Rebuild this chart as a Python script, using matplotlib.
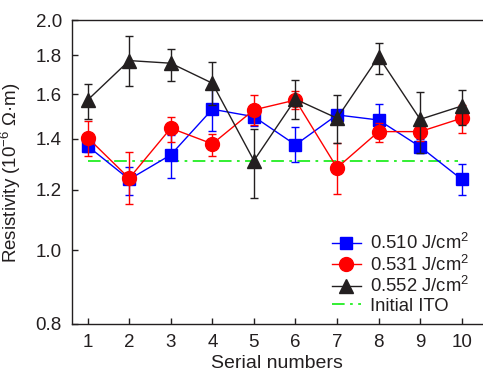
import matplotlib
matplotlib.use("Agg")
import matplotlib.pyplot as plt
import numpy as np
from matplotlib.ticker import FixedLocator, FormatStrFormatter, NullLocator

plt.rcParams['font.family'] = ['Liberation Sans', 'DejaVu Sans']
plt.rcParams['mathtext.fontset'] = 'custom'
plt.rcParams['mathtext.rm'] = 'Liberation Sans'
plt.rcParams['mathtext.default'] = 'regular'

# -----------------------------
# data
serial = np.arange(1, 11)

res_510 = [1.369, 1.238, 1.333, 1.530, 1.496, 1.374, 1.504, 1.481, 1.366, 1.238]
low_510 = [1.346, 1.181, 1.242, 1.433, 1.455, 1.306, 1.480, 1.401, 1.340, 1.181]
high_510 = [1.394, 1.284, 1.416, 1.625, 1.539, 1.452, 1.520, 1.554, 1.397, 1.297]

res_531 = [1.404, 1.242, 1.445, 1.378, 1.527, 1.573, 1.282, 1.430, 1.430, 1.489]
low_531 = [1.329, 1.149, 1.387, 1.329, 1.460, 1.530, 1.183, 1.387, 1.390, 1.425]
high_531 = [1.477, 1.344, 1.496, 1.420, 1.597, 1.618, 1.383, 1.469, 1.469, 1.550]

res_552 = [1.573, 1.772, 1.758, 1.655, 1.310, 1.577, 1.489, 1.793, 1.484, 1.545]
low_552 = [1.484, 1.641, 1.668, 1.550, 1.169, 1.484, 1.383, 1.702, 1.342, 1.459]
high_552 = [1.650, 1.909, 1.834, 1.766, 1.440, 1.671, 1.597, 1.870, 1.613, 1.621]

ito_x = [1, 9.9]
ito_val = 1.31

yticks = [0.8, 1.0, 1.2, 1.4, 1.6, 1.8, 2.0]

# -----------------------------
dark = '#231F20'
fig = plt.figure(figsize=(4.83, 3.76), dpi=100)
ax = fig.add_axes([0.1484, 0.1383, 0.8506, 0.8072])

ito_line, = ax.plot(ito_x, [ito_val, ito_val], color='#22EE22', lw=1.3,
                    dashes=(7, 3, 1.5, 3), zorder=1)

series = [
    (res_510, low_510, high_510, '#0000FF', 's', 9, '0.510 J/cm$^2$'),
    (res_531, low_531, high_531, '#FF0000', 'o', 10, '0.531 J/cm$^2$'),
    (res_552, low_552, high_552, dark, '^', 10.5, '0.552 J/cm$^2$'),
]
handles = []
labels = []
for i, (vals, lo, hi, col, mk, ms, lab) in enumerate(series):
    vals = np.array(vals)
    err = [vals - np.array(lo), np.array(hi) - vals]
    h = ax.errorbar(serial, vals, yerr=err, color=col, marker=mk, ms=ms,
                    lw=1.0, elinewidth=1.0, capsize=3, capthick=1.0,
                    zorder=2 + i)
    handles.append(h.lines[0])
    labels.append(lab)

ax.set_yscale('log')
ax.set_ylim(0.8, 2.0)
ax.set_xlim(0.616, 10.5)
ax.yaxis.set_major_locator(FixedLocator(yticks))
ax.yaxis.set_major_formatter(FormatStrFormatter('%.1f'))
ax.yaxis.set_minor_locator(NullLocator())
ax.set_xticks(serial)

ax.tick_params(direction='in', length=4, width=1, colors=dark,
               labelsize=13.5, pad=7)
for side in ['left', 'bottom', 'top']:
    ax.spines[side].set_color(dark)
    ax.spines[side].set_linewidth(1)
ax.spines['right'].set_visible(False)

ax.set_xlabel('Serial numbers', fontsize=14, color=dark, labelpad=3)
ax.set_ylabel('Resistivity (10$^{-6}$ Ω·m)', fontsize=13.5, color=dark)
ax.yaxis.set_label_coords(-0.118, 0.5)

leg = ax.legend(handles + [ito_line], labels + ['Initial ITO'],
                loc='lower right', bbox_to_anchor=(1.0, -0.012),
                frameon=False, fontsize=13.3, handlelength=1.6,
                handletextpad=0.5, labelspacing=0.08, borderpad=0.2)
for t in leg.get_texts():
    t.set_color(dark)

fig.savefig('out.png', dpi=100)
